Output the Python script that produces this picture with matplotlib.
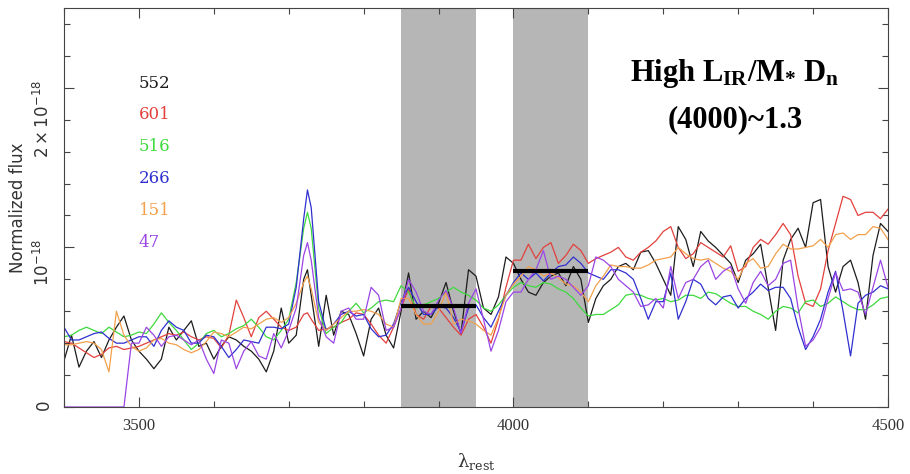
import numpy as np
import matplotlib
matplotlib.use("Agg")
import matplotlib.pyplot as plt
from matplotlib.ticker import FixedLocator, FixedFormatter, MultipleLocator

# rest-frame wavelength grid (Angstrom), with one extra sample on the [OII] peak
wave = np.insert(np.arange(3400, 4501, 10), 33, 3725)

# stacked spectra, flux in units of 1e-18
flux_552 = [0.29, 0.45, 0.25, 0.35, 0.41, 0.31, 0.42, 0.50, 0.57, 0.42,
            0.35, 0.30, 0.24, 0.30, 0.50, 0.42, 0.48, 0.54, 0.38, 0.40,
            0.30, 0.38, 0.44, 0.42, 0.38, 0.35, 0.30, 0.22, 0.35, 0.62,
            0.40, 0.45, 0.80, 0.86, 0.70, 0.38, 0.70, 0.45, 0.60, 0.58, 0.46,
            0.32, 0.55, 0.62, 0.45, 0.37, 0.60, 0.84, 0.55, 0.60, 0.56,
            0.65, 0.78, 0.60, 0.46, 0.86, 0.82, 0.62, 0.58, 0.69, 0.94,
            0.90, 0.80, 0.72, 0.70, 0.78, 0.82, 0.84, 0.76, 0.88, 0.80,
            0.53, 0.68, 0.76, 0.80, 0.88, 0.90, 0.86, 0.97, 0.98, 0.90,
            0.80, 0.70, 1.13, 1.05, 0.88, 1.10, 1.04, 1.00, 0.95, 0.90,
            0.78, 0.92, 0.96, 1.02, 0.75, 0.48, 0.92, 1.05, 1.12, 1.00,
            1.28, 1.30, 0.88, 0.72, 0.88, 0.92, 0.78, 0.55, 0.95, 1.15,
            1.10]
flux_601 = [0.41, 0.40, 0.37, 0.34, 0.31, 0.33, 0.37, 0.38, 0.36, 0.37,
            0.38, 0.40, 0.42, 0.44, 0.46, 0.45, 0.47, 0.44, 0.42, 0.44,
            0.43, 0.37, 0.45, 0.67, 0.56, 0.44, 0.56, 0.60, 0.55, 0.50,
            0.48, 0.50, 0.58, 0.59, 0.55, 0.48, 0.49, 0.50, 0.53, 0.55, 0.59,
            0.58, 0.52, 0.45, 0.40, 0.50, 0.62, 0.74, 0.58, 0.55, 0.63,
            0.62, 0.56, 0.50, 0.45, 0.55, 0.58, 0.50, 0.40, 0.55, 0.75,
            0.92, 0.92, 1.02, 0.93, 1.00, 1.03, 0.90, 0.95, 1.02, 0.98,
            0.90, 0.93, 0.95, 0.97, 1.00, 0.94, 0.92, 0.97, 1.00, 1.04,
            1.10, 1.13, 1.00, 0.93, 0.96, 1.03, 1.00, 0.97, 0.94, 1.01,
            0.85, 0.88, 1.00, 1.05, 1.02, 1.08, 1.15, 1.08, 0.82, 0.65,
            0.63, 0.74, 0.98, 1.15, 1.32, 1.30, 1.20, 1.22, 1.22, 1.18,
            1.24]
flux_516 = [0.44, 0.45, 0.48, 0.50, 0.48, 0.46, 0.50, 0.47, 0.44, 0.45,
            0.47, 0.46, 0.52, 0.59, 0.53, 0.48, 0.42, 0.36, 0.40, 0.46,
            0.48, 0.44, 0.46, 0.49, 0.51, 0.55, 0.50, 0.44, 0.42, 0.48,
            0.55, 0.78, 1.12, 1.22, 1.12, 0.62, 0.46, 0.50, 0.53, 0.60, 0.65,
            0.59, 0.62, 0.66, 0.67, 0.66, 0.76, 0.72, 0.62, 0.64, 0.66,
            0.68, 0.72, 0.75, 0.72, 0.70, 0.67, 0.62, 0.60, 0.64, 0.70,
            0.75, 0.78, 0.76, 0.75, 0.78, 0.77, 0.74, 0.72, 0.68, 0.62,
            0.57, 0.58, 0.58, 0.61, 0.64, 0.70, 0.71, 0.70, 0.68, 0.67,
            0.68, 0.66, 0.67, 0.70, 0.70, 0.68, 0.72, 0.71, 0.68, 0.65,
            0.63, 0.63, 0.60, 0.58, 0.55, 0.60, 0.63, 0.62, 0.59, 0.66,
            0.67, 0.63, 0.65, 0.69, 0.66, 0.63, 0.61, 0.61, 0.64, 0.68,
            0.69]
flux_266 = [0.50, 0.42, 0.42, 0.44, 0.46, 0.47, 0.43, 0.40, 0.40, 0.42,
            0.44, 0.44, 0.38, 0.48, 0.54, 0.50, 0.48, 0.40, 0.40, 0.45,
            0.44, 0.38, 0.31, 0.36, 0.42, 0.41, 0.40, 0.50, 0.50, 0.49,
            0.52, 0.75, 1.18, 1.36, 1.25, 0.66, 0.48, 0.52, 0.58, 0.60, 0.57,
            0.58, 0.49, 0.44, 0.45, 0.52, 0.66, 0.75, 0.66, 0.58, 0.58,
            0.63, 0.62, 0.56, 0.47, 0.62, 0.64, 0.56, 0.50, 0.60, 0.70,
            0.78, 0.84, 0.80, 0.84, 0.79, 0.84, 0.88, 0.89, 0.94, 0.90,
            0.84, 0.82, 0.80, 0.86, 0.86, 0.84, 0.80, 0.68, 0.55, 0.66,
            0.66, 0.84, 0.55, 0.66, 0.80, 0.77, 0.68, 0.64, 0.69, 0.70,
            0.62, 0.68, 0.72, 0.77, 0.73, 0.75, 0.75, 0.68, 0.50, 0.36,
            0.44, 0.55, 0.72, 0.85, 0.60, 0.32, 0.65, 0.70, 0.72, 0.76,
            0.74]
flux_151 = [0.39, 0.39, 0.40, 0.41, 0.40, 0.36, 0.22, 0.60, 0.45, 0.38,
            0.35, 0.37, 0.42, 0.43, 0.40, 0.39, 0.36, 0.34, 0.36, 0.41,
            0.47, 0.46, 0.44, 0.47, 0.50, 0.49, 0.52, 0.55, 0.56, 0.53,
            0.56, 0.65, 0.78, 0.82, 0.74, 0.53, 0.48, 0.52, 0.56, 0.60, 0.60,
            0.61, 0.60, 0.58, 0.52, 0.50, 0.68, 0.68, 0.58, 0.52, 0.52,
            0.60, 0.72, 0.52, 0.55, 0.54, 0.52, 0.48, 0.45, 0.56, 0.70,
            0.77, 0.82, 0.88, 0.86, 0.82, 0.84, 0.81, 0.77, 0.76, 0.72,
            0.66, 0.76, 0.82, 0.89, 0.88, 0.88, 0.87, 0.87, 0.89, 0.92,
            0.93, 0.94, 1.00, 0.96, 0.93, 0.92, 0.93, 0.90, 0.87, 0.85,
            0.80, 0.90, 0.93, 0.87, 0.88, 0.96, 1.02, 0.99, 0.99, 1.00,
            1.01, 1.05, 1.00, 1.08, 1.09, 1.05, 1.08, 1.08, 1.13, 1.12,
            1.05]
flux_47 = [0.00, 0.00, 0.00, 0.00, 0.00, 0.00, 0.00, 0.00, 0.00, 0.40,
           0.40, 0.50, 0.45, 0.38, 0.44, 0.45, 0.42, 0.39, 0.42, 0.30,
           0.21, 0.42, 0.40, 0.24, 0.35, 0.41, 0.32, 0.30, 0.46, 0.37,
           0.48, 0.62, 0.95, 1.03, 0.92, 0.56, 0.44, 0.40, 0.60, 0.62, 0.55,
           0.55, 0.75, 0.70, 0.48, 0.50, 0.62, 0.80, 0.72, 0.60, 0.58,
           0.67, 0.73, 0.62, 0.46, 0.65, 0.74, 0.55, 0.35, 0.48, 0.66,
           0.72, 0.72, 0.80, 0.86, 0.98, 0.80, 0.82, 0.80, 0.75, 0.70,
           0.76, 0.94, 0.92, 0.88, 0.80, 0.76, 0.72, 0.63, 0.64, 0.68,
           0.62, 0.88, 0.68, 0.78, 0.80, 0.88, 0.92, 0.80, 0.85, 0.88,
           0.74, 0.65, 0.78, 0.85, 0.76, 0.80, 0.90, 0.92, 0.62, 0.38,
           0.42, 0.50, 0.68, 0.84, 0.73, 0.74, 0.72, 0.58, 0.75, 0.92,
           0.75]

spectra = [flux_552, flux_601, flux_516, flux_266, flux_151, flux_47]
labels = ["552", "601", "516", "266", "151", "47"]
colors = ["#1c1c1c", "#e2413d", "#3ed93e", "#3030d0", "#f2a04c", "#9b45e4"]

# D4000 windows and the mean flux measured in each
bands = [(3850, 3950), (4000, 4100)]
band_levels = [0.63, 0.85]

plt.rcParams["mathtext.rm"] = "Liberation Serif:bold"
plt.rcParams["mathtext.it"] = "Liberation Serif:bold"
plt.rcParams["mathtext.bf"] = "Liberation Serif:bold"

fig = plt.figure(figsize=(9.1, 4.74), dpi=100)
ax = fig.add_axes([64 / 910, 67 / 474, 824 / 910, 399 / 474])

for lo, hi in bands:
    ax.axvspan(lo, hi, color="#b6b6b6", lw=0, zorder=0)

for f, c in zip(spectra, colors):
    ax.plot(wave, f, color=c, lw=0.9, zorder=2)

ax.hlines(band_levels, [b[0] for b in bands], [b[1] for b in bands],
          color="black", lw=3, zorder=3)

# sample sizes, one per line
for i, (lab, c) in enumerate(zip(labels, colors)):
    ax.text(3500, 2.03 - 0.2 * i, lab, color=c, fontsize=12,
            family="DejaVu Serif", va="center")

ax.text(4296, 2.09, r"High L$_{\mathrm{IR}}$/M$_{*}$ D$_{\mathrm{n}}$",
        fontsize=22, fontweight="bold", family="Liberation Serif",
        ha="center", va="center", math_fontfamily="custom")
ax.text(4296, 1.80, "(4000)~1.3", fontsize=22, fontweight="bold",
        family="Liberation Serif", ha="center", va="center")

ax.set_xlim(3400, 4500)
ax.set_ylim(0, 2.5)
ax.xaxis.set_major_locator(FixedLocator([3500, 4000, 4500]))
ax.xaxis.set_minor_locator(MultipleLocator(100))
ax.yaxis.set_major_locator(FixedLocator([0, 1, 2]))
ax.yaxis.set_major_formatter(FixedFormatter(["0", r"$10^{-18}$", r"$2\times10^{-18}$"]))
ax.yaxis.set_minor_locator(MultipleLocator(0.2))

ax.tick_params(which="both", direction="in", top=True, right=True,
               color="#444444", width=0.8)
ax.tick_params(which="major", length=7)
ax.tick_params(which="minor", length=4)
ax.tick_params(axis="y", labelrotation=90, labelsize=12, pad=8,
               labelcolor="#333333")
ax.tick_params(axis="x", labelsize=12, pad=8, labelcolor="#333333",
               labelfontfamily="Liberation Serif")
for sp in ax.spines.values():
    sp.set_color("#444444")
    sp.set_linewidth(0.8)

ax.set_ylabel("Normalized flux", fontsize=12, color="#333333", labelpad=4)
ax.set_xlabel(r"λ$_{\rm rest}$", fontsize=13, family="DejaVu Serif",
              color="#333333", labelpad=12, math_fontfamily="dejavuserif")

fig.savefig("out.png", dpi=100)
